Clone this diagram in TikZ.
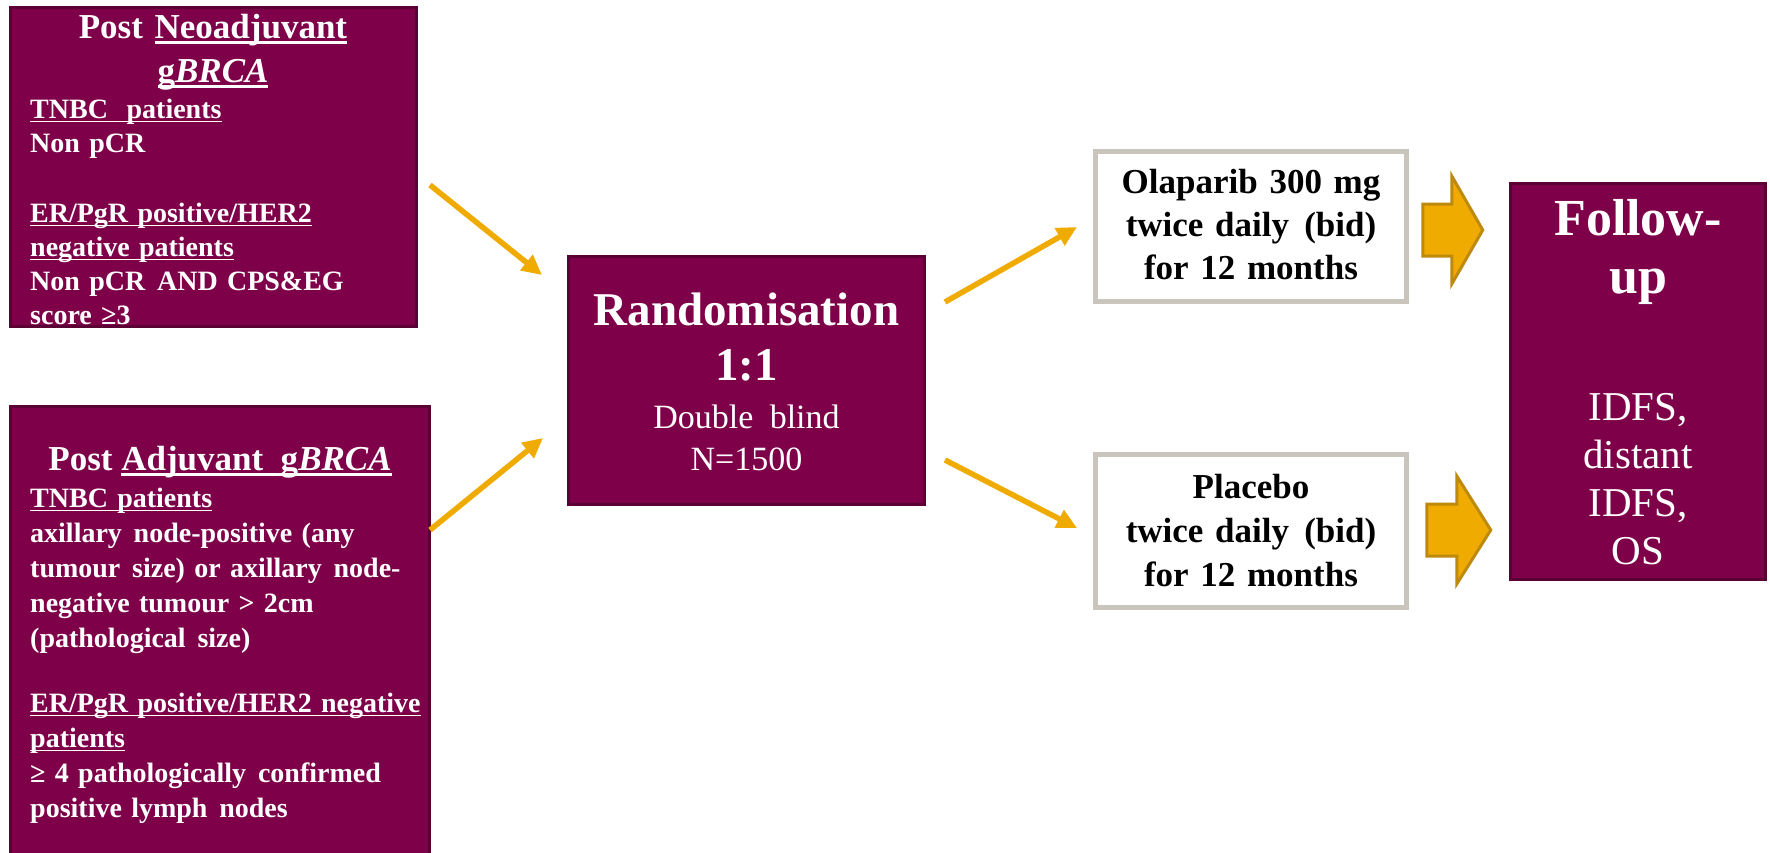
\documentclass[tikz,border=0pt]{standalone}
\usepackage{fontspec}
\setmainfont{Liberation Serif}
\usetikzlibrary{arrows.meta,calc}

\definecolor{boxmaroon}{HTML}{7E0049}
\definecolor{boxedge}{HTML}{5A0034}
\definecolor{gold}{HTML}{F0AB00}
\definecolor{goldedge}{HTML}{BE8A0E}
\definecolor{greyedge}{HTML}{C9C5BC}

% underline drawn just below the baseline, in the current text colour
\newcommand\ulin[1]{\leavevmode\setbox0=\hbox{#1}\rlap{\rule[-0.16em]{\wd0}{0.07em}}\box0}
% slightly widened word gap
\newcommand\wsp{\hspace{0.42em}}

\begin{document}
\begin{tikzpicture}[x=1pt,y=-1pt,
  mbox/.style={draw=boxedge, line width=3pt, fill=boxmaroon, inner sep=0pt},
  wbox/.style={draw=greyedge, line width=4.5pt, fill=white, inner sep=0pt},
  wtxt/.style={text=white, inner sep=0pt},
  btxt/.style={text=black, inner sep=0pt},
  thinarr/.style={draw=gold, line width=5.5pt, -{Triangle[length=20pt,width=19pt]}},
  blockarr/.style={draw=goldedge, line width=3pt, fill=gold, line join=miter}]

\useasboundingbox (0,0) rectangle (1770,852);
\clip (0,0) rectangle (1770,852);
\fill[white] (0,0) rectangle (1770,852);

% ---------- boxes ----------
\node[mbox, minimum width=406pt, minimum height=319pt] (neo) at (213.5,167) {};
\node[mbox, minimum width=419pt, minimum height=456pt] (adj) at (220,634) {};
\node[mbox, minimum width=356pt, minimum height=248pt] (rand) at (746.5,380.5) {};
\node[wbox, minimum width=311pt, minimum height=150pt] (ola) at (1251,226.5) {};
\node[wbox, minimum width=311pt, minimum height=153pt] (pla) at (1251,531) {};
\node[mbox, minimum width=255pt, minimum height=396pt] (fup) at (1638,381.5) {};

% ---------- texts: post neoadjuvant ----------
\node[wtxt, font=\bfseries\fontsize{35}{44}\selectfont, text width=400pt, align=center, anchor=base]
  (neoT) at (213,38) {Post \ulin{Neoadjuvant}\\ \ulin{g\textit{BRCA}}};
\node[wtxt, font=\bfseries\fontsize{28}{34}\selectfont, text width=385pt, align=left, anchor=base west]
  (neoB) at (30,118) {\ulin{TNBC\ \ patients}\\ Non pCR\\[36pt]
   \ulin{ER/PgR positive/HER2}\\ \ulin{negative patients}\\
   Non pCR\wsp AND CPS\&EG\\ score ≥3};

% ---------- texts: post adjuvant ----------
\node[wtxt, font=\bfseries\fontsize{35}{44}\selectfont, anchor=base]
  (adjT) at (220,470) {Post \ulin{Adjuvant\ \ g\textit{BRCA}}};
\node[wtxt, font=\bfseries\fontsize{28}{35}\selectfont, text width=400pt, align=left, anchor=base west]
  (adjB) at (30,507) {\ulin{TNBC patients}\\
   axillary\wsp node-positive (any\\
   tumour\wsp size) or axillary\wsp node-\\
   negative tumour > 2cm\\
   (pathological\wsp size)\\[30pt]
   \ulin{ER/PgR positive/HER2 negative}\\ \ulin{patients}\\
   ≥ 4 pathologically\wsp confirmed\\
   positive lymph\wsp nodes};

% ---------- texts: randomisation ----------
\node[wtxt, text width=356pt, align=center, anchor=base] (randT) at (746.5,325)
  {{\bfseries\fontsize{47}{55}\selectfont Randomisation\par 1:1\par}%
   {\fontsize{34}{48}\selectfont Double\hspace{0.48em}blind\par}%
   {\fontsize{34}{42}\selectfont N=1500\par}};

% ---------- texts: arms ----------
\node[btxt, font=\bfseries\fontsize{35}{43}\selectfont, text width=311pt, align=center, anchor=base]
  (olaT) at (1251,193) {Olaparib 300 mg\\ twice daily\hspace{0.1em} (bid)\\ for 12 months};
\node[btxt, font=\bfseries\fontsize{35}{44}\selectfont, text width=311pt, align=center, anchor=base]
  (plaT) at (1251,498) {Placebo\\ twice daily\hspace{0.1em} (bid)\\ for 12 months};

% ---------- texts: follow-up ----------
\node[wtxt, font=\bfseries\fontsize{52}{58}\selectfont, text width=255pt, align=center, anchor=base]
  (fupT) at (1638,235) {Follow-\\ up};
\node[wtxt, font=\fontsize{41}{48}\selectfont, text width=255pt, align=center, anchor=base]
  (fupB) at (1638,420) {IDFS,\\ distant\\ IDFS,\\ OS};

% ---------- thin arrows ----------
\coordinate (a1s) at (430,185);  \coordinate (a1e) at (542,275);
\coordinate (a2s) at (430,530);  \coordinate (a2e) at (543,438);
\coordinate (a3s) at (945,302);  \coordinate (a3e) at (1077,227);
\coordinate (a4s) at (945,460);  \coordinate (a4e) at (1077,528);
\draw[thinarr] (a1s) -- (a1e);
\draw[thinarr] (a2s) -- (a2e);
\draw[thinarr] (a3s) -- (a3e);
\draw[thinarr] (a4s) -- (a4e);

% ---------- block arrows towards follow-up ----------
\draw[blockarr, shift={($(ola.east)+(14,3.5)$)}]
  (0,-26) -- (29,-26) -- (29,-54) -- (60,0) -- (29,54) -- (29,26) -- (0,26) -- cycle;
\draw[blockarr, shift={($(pla.east)+(18,-1)$)}]
  (0,-26) -- (30,-26) -- (30,-54) -- (64,0) -- (30,54) -- (30,26) -- (0,26) -- cycle;

\end{tikzpicture}
\end{document}
